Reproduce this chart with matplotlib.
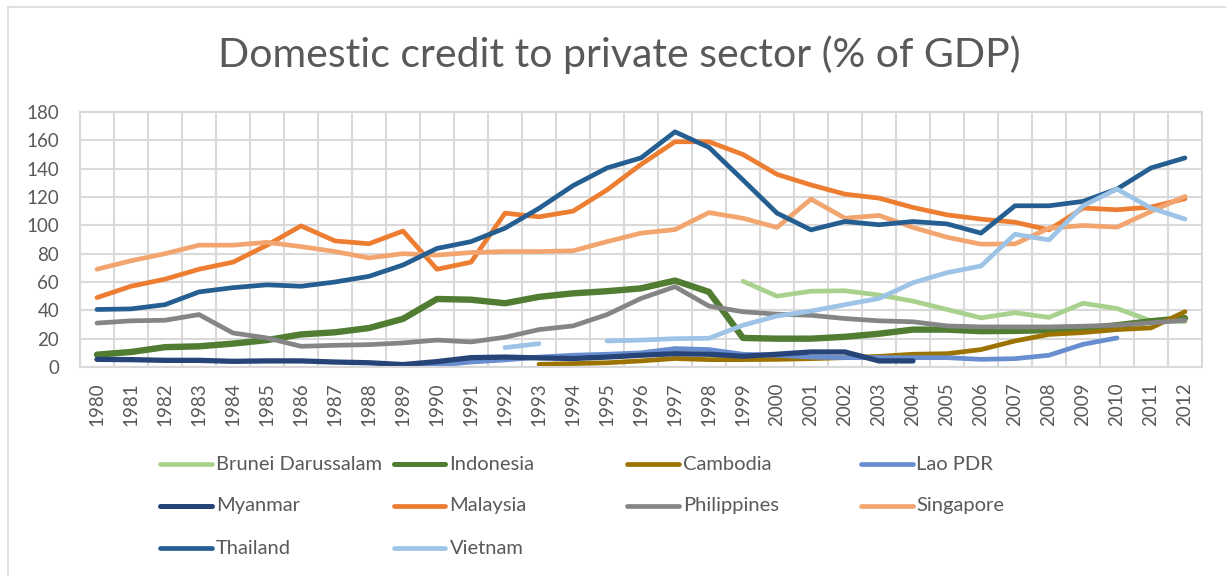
import numpy as np
import matplotlib.pyplot as plt
from matplotlib.lines import Line2D

nan = np.nan
years = list(range(1980, 2013))

brunei = [nan] * 19 + [60.5, 50, 53.5, 53.8, 50.8, 46.5, 40.6, 34.7, 38.3, 35, 45, 41.3, 32.6, 32]
indonesia = [8.7, 10.6, 14, 14.6, 16.5, 19, 23, 24.5, 27.5, 34,
             48, 47.5, 45, 49.5, 52, 53.5, 55.5, 61, 53, 20.5,
             20, 20, 21.3, 23.5, 26.4, 26.4, 25.3, 25.5, 26, 27.2,
             29.5, 32.3, 34.5]
cambodia = [nan] * 13 + [1.9, 2.4, 3, 4.3, 6, 5.2, 5.2, 5.4, 5.9, 6.6,
                         7.5, 9, 9.4, 12.3, 18.4, 23, 24.3, 26.4, 27.6, 39]
lao = [nan] * 9 + [0.5, 1.2, 3.5, 5, 7, 8.3, 9, 10, 13, 12.3, 9,
                   8.3, 7, 6.6, 6.6, 6.6, 6.6, 5.4, 5.9, 8.3, 16, 20.5] + [nan] * 2
myanmar = [5.4, 5.2, 4.7, 4.7, 4, 4.3, 4.3, 3.5, 3, 1.7,
           3.8, 6.6, 7, 6.4, 6, 7, 8.3, 9.4, 9, 7.6,
           9, 10.6, 10.6, 4.3, 4.3] + [nan] * 8
malaysia = [49, 57, 62, 69, 74, 86, 99.6, 89, 87, 96,
            69, 74, 108.6, 106, 110, 125, 143, 159, 159, 150,
            136, 128.5, 122, 119.2, 112.6, 107.4, 104.4, 102.2, 96.8, 112.2,
            111, 112.9, 118.8]
philippines = [31, 32.6, 33, 37, 24, 20.5, 14.6, 15.3, 15.8, 17,
               19, 17.7, 21, 26.4, 29, 37, 48.4, 56.7, 43, 39,
               37.3, 36.5, 34.2, 32.6, 31.9, 29, 28.3, 28.3, 28.3, 28.8,
               29.5, 31.2, 33]
singapore = [69, 75, 80, 86, 86, 88, 85, 81.5, 77, 80,
             79, 80.8, 81.5, 81.5, 82, 88.5, 94.5, 97, 109, 105,
             98.5, 118.5, 105, 107, 98.5, 91.6, 86.7, 86.9, 98, 99.9,
             98.7, 109.8, 120.4]
thailand = [40.6, 41, 44, 53, 56, 58, 57, 60, 64, 72,
            83.7, 88.5, 98, 112, 128, 140.5, 147.6, 166, 155, 132,
            108.6, 96.8, 102.7, 100.4, 102.7, 101, 94.5, 113.8, 113.8, 116.9,
            125.6, 140.5, 147.6]
vietnam = [nan] * 12 + [13.7, 16.5, nan, 18.4, 19, 20, 20.3, 29.5,
                        36, 39.5, 44, 48.4, 59.5, 66.6, 71.3, 93.7, 89.7, 113.8,
                        125.6, 112.2, 104.4]

names = ["Brunei Darussalam", "Indonesia", "Cambodia", "Lao PDR", "Myanmar",
         "Malaysia", "Philippines", "Singapore", "Thailand", "Vietnam"]
values = [brunei, indonesia, cambodia, lao, myanmar,
          malaysia, philippines, singapore, thailand, vietnam]
colors = ["#A9D18E", "#507D32", "#9C7300", "#698ED0", "#264478",
          "#ED7D31", "#858585", "#F3A56F", "#255E91", "#9DC3E6"]
widths = [3.4, 4.6, 3.4, 3.4, 3.8, 3.4, 3.4, 3.4, 3.4, 3.4]

plt.rcParams['font.family'] = ['Lato', 'DejaVu Sans']
text_col = "#595959"
grid_col = "#D9D9D9"

fig = plt.figure(figsize=(12.26, 5.76), dpi=100)
W, H = 1226, 576
ax = fig.add_axes([80 / W, 1 - 367 / H, 1122 / W, 255 / H])

x = np.arange(len(years))
for name, v, c, lw in zip(names, values, colors, widths):
    ax.plot(x, v, color=c, lw=lw, solid_capstyle='round', solid_joinstyle='round', label=name)

ax.set_xlim(-0.5, len(years) - 0.5)
ax.set_ylim(0, 180)
ax.set_yticks(range(0, 181, 20))
ax.set_xticks(x)
ax.set_xticklabels([str(y) for y in years], rotation=90)
ax.set_xticks(np.arange(-0.5, len(years), 1), minor=True)
ax.tick_params(axis='both', which='both', length=0, labelsize=13.5, colors=text_col)
ax.tick_params(axis='y', pad=15)
ax.tick_params(axis='x', pad=11)
ax.grid(which='major', axis='y', color=grid_col, lw=1.5)
ax.grid(which='minor', axis='x', color=grid_col, lw=1.5)
ax.set_axisbelow(True)
for s in ax.spines.values():
    s.set_color(grid_col)
    s.set_linewidth(1.5)

fig.text(619 / W, 1 - 55 / H, "Domestic credit to private sector (% of GDP)",
         ha='center', va='center', fontsize=29.5, color=text_col)

# legend laid out in rows of four, like the spreadsheet one
for i, (name, c, lw) in enumerate(zip(names, colors, widths)):
    row, col = divmod(i, 4)
    x0 = 160 + col * 233.5
    y0 = 1 - (464 + row * 42) / H
    fig.add_artist(Line2D([x0 / W, (x0 + 52) / W], [y0, y0], color=c, lw=min(lw, 3.6),
                          solid_capstyle='round', transform=fig.transFigure))
    fig.text((x0 + 56) / W, y0, name, ha='left', va='center', fontsize=14.5, color=text_col)

fig.add_artist(plt.Rectangle((8 / W, -0.1), 1.2, 1 - 7 / H + 0.1, transform=fig.transFigure,
                             fill=False, edgecolor=grid_col, lw=1.2))

fig.savefig("out.png", dpi=100)
